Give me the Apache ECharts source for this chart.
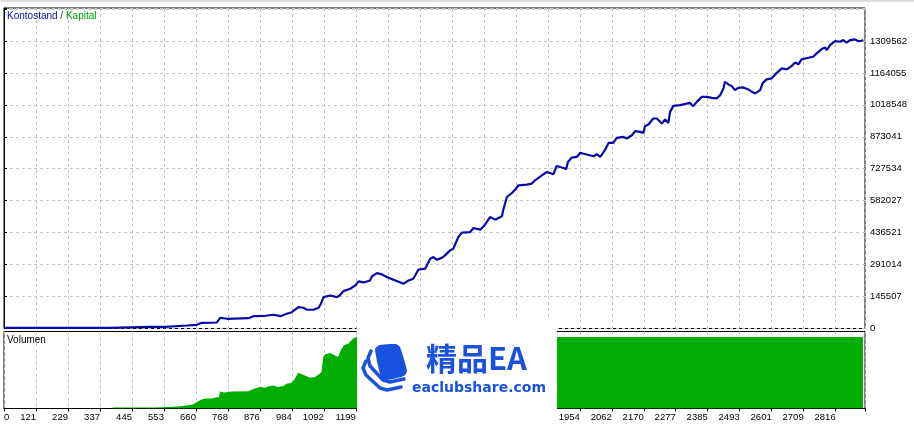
<!DOCTYPE html>
<html>
<head>
<meta charset="utf-8">
<script src="https://cdn.jsdelivr.net/npm/echarts@6/dist/echarts.min.js"></script>
<style>
html,body{margin:0;padding:0;background:#fff;}
#c{width:914px;height:426px;}
</style>
</head>
<body>
<div id="c"></div>
<script>
// ---- data ----
const xTickLabels = ['0','121','229','337','445','553','660','768','876','984','1092','1199','1307','1415','1523','1631','1738','1846','1954','2062','2170','2277','2385','2493','2601','2709','2816'];
const yTickLabels = ['0','145507','291014','436521','582027','727534','873041','1018548','1164055','1309562'];

// Kontostand (balance): [trade number, balance]
const balance = [
[4,3000],[352,3000],[354,7500],[494,7000],[544,7000],[550,10490],[618,13683],[622,16876],[651,16876],[668,25998],
[719,27366],[730,48803],[753,44242],[826,46978],[842,56100],[882,57925],[910,62486],[933,56100],[955,67047],[972,74344],
[994,97149],[1011,94413],[1023,85291],[1045,85291],[1062,94413],[1070,112657],[1079,142759],[1101,150513],[1124,142759],[1133,150513],
[1146,170125],[1169,181072],[1186,196123],[1197,214367],[1214,209806],[1236,218928],[1242,237172],[1259,252223],[1276,246294],[1293,233979],
[1315,222121],[1349,203877],[1366,218928],[1382,226682],[1399,267731],[1422,272292],[1439,317902],[1450,325199],[1461,313341],[1478,321551],
[1489,332953],[1506,355758],[1517,363512],[1534,416419],[1546,436488],[1574,439224],[1585,457468],[1608,450171],[1624,472976],[1641,507639],
[1658,495781],[1681,510832],[1686,541391],[1698,598859],[1715,617103],[1726,632611],[1737,652223],[1765,655416],[1782,659977],[1793,675028],
[1816,697833],[1833,712884],[1855,702394],[1866,740250],[1889,731128],[1898,725199],[1904,758494],[1917,778563],[1934,781299],[1945,799543],
[1968,792246],[1990,784492],[2001,793614],[2013,781299],[2029,811858],[2041,845153],[2057,845153],[2069,867958],[2091,872519],[2103,865222],
[2120,880273],[2131,898517],[2148,895324],[2159,890763],[2164,921322],[2176,929076],[2192,956442],[2204,956442],[2221,933637],[2232,951881],
[2243,936373],[2249,986544],[2260,1013910],[2283,1017103],[2316,1027593],[2327,1012542],[2339,1032154],[2356,1054959],[2373,1054959],[2390,1050398],
[2406,1047662],[2418,1062713],[2429,1093272],[2434,1123374],[2446,1111516],[2457,1103762],[2468,1085518],[2479,1096008],[2496,1097833],[2513,1088711],
[2525,1077764],[2536,1070467],[2553,1085518],[2562,1118813],[2575,1134321],[2592,1138882],[2609,1164423],[2626,1184492],[2643,1179931],[2660,1196350],
[2671,1211858],[2682,1202736],[2693,1225541],[2716,1232838],[2732,1237399],[2744,1252907],[2761,1272519],[2772,1280273],[2778,1267958],[2789,1290763],
[2806,1309007],[2823,1305814],[2834,1313568],[2845,1301253],[2856,1313568],[2873,1316761],[2884,1309007],[2896,1310375],[2901,1313568]
];

// Volumen (percent of panel scale): [trade number, volume]
const volume = [
[367,1.4],[510,1.4],[512,2.8],[586,2.8],[587,4.2],[616,4.2],[617,5.6],[638,5.6],[639,7.4],[656,10.2],
[667,12.6],[682,14.0],[701,14.0],[718,15.8],[726,15.8],[729,23.8],[743,22.4],[769,23.8],[825,24.3],[830,26.2],
[847,28.1],[864,29.9],[881,29.0],[892,30.9],[909,32.3],[926,29.9],[943,31.3],[954,34.6],[971,36.0],[982,41.7],
[993,50.1],[999,50.9],[1016,46.3],[1033,43.1],[1050,43.9],[1061,47.3],[1072,50.9],[1078,72.0],[1083,75.7],[1100,77.6],
[1111,75.7],[1128,72.0],[1137,81.3],[1148,88.4],[1162,90.7],[1168,92.1],[1179,97.8],[1190,100],[2900,100]
];

const X_INTERVAL = 108, X_MAX = 2907;
const Y_INTERVAL = 145507, Y_MAX = 1459600;
const FONT = '"Liberation Sans", Arial, sans-serif';
const WM = '#1a52e0';

const chart = echarts.init(document.getElementById('c'), null, {renderer:'canvas'});

const dash = {color:'#c6c6c6', type:[3,3], width:1};

chart.setOption({
  animation:false,
  backgroundColor:'#ffffff',
  grid:[
    {left:4, right:49, top:8, height:320.5, show:true, borderColor:'#000', borderWidth:1, backgroundColor:'#fff'},
    {left:4, right:49, top:331.5, height:77, show:true, borderColor:'#000', borderWidth:1, backgroundColor:'#fff'}
  ],
  xAxis:[
    {gridIndex:0, type:'value', min:0, max:X_MAX, interval:X_INTERVAL,
     axisLine:{show:false}, axisTick:{show:false}, axisLabel:{show:false},
     splitLine:{show:true, lineStyle:dash}},
    {gridIndex:1, type:'value', min:0, max:X_MAX, interval:X_INTERVAL,
     axisLine:{show:true, lineStyle:{color:'#000'}},
     axisTick:{show:true, length:3, lineStyle:{color:'#000'}},
     axisLabel:{show:true, color:'#000', fontFamily:FONT, fontSize:9.5, margin:4,
       align:'right', alignMinLabel:'left',
       formatter:function(v){const i=Math.round(v/X_INTERVAL); return (Math.abs(v-i*X_INTERVAL)<1 && xTickLabels[i]!==undefined)?xTickLabels[i]:'';}},
     splitLine:{show:true, lineStyle:dash}}
  ],
  yAxis:[
    {gridIndex:0, type:'value', position:'right', min:0, max:Y_MAX, interval:Y_INTERVAL,
     axisLine:{show:true, lineStyle:{color:'#000'}},
     axisTick:{show:true, length:3, lineStyle:{color:'#000'}},
     axisLabel:{show:true, color:'#000', fontFamily:FONT, fontSize:9.5, margin:5, align:'left',
       formatter:function(v){const i=Math.round(v/Y_INTERVAL); return (Math.abs(v-i*Y_INTERVAL)<10 && yTickLabels[i]!==undefined)?yTickLabels[i]:'';}},
     splitLine:{show:true, lineStyle:dash}},
    {gridIndex:1, type:'value', position:'right', min:0, max:107.7, show:false, splitLine:{show:false}}
  ],
  series:[
    {type:'line', xAxisIndex:1, yAxisIndex:1, data:volume, showSymbol:false, symbol:'none',
     lineStyle:{width:0}, areaStyle:{color:'#00ad00', opacity:1}, itemStyle:{color:'#00ad00'}},
    {type:'line', xAxisIndex:0, yAxisIndex:0, data:balance, showSymbol:false, symbol:'none',
     lineStyle:{width:2.2, color:'#0a0aa8'}, itemStyle:{color:'#0a0aa8'}}
  ],
  graphic:{
    elements:[
    {type:'rect', z:100, silent:true, shape:{x:0,y:0,width:914,height:2}, style:{fill:'#dedede'}},
    {type:'text', z:100, x:7, y:16, style:{
      text:'{a|Kontostand} {s|/} {b|Kapital}', verticalAlign:'middle', fontFamily:FONT, fontSize:10,
      rich:{a:{fill:'#0a0a9a', fontFamily:FONT, fontSize:10}, s:{fill:'#333', fontFamily:FONT, fontSize:10}, b:{fill:'#00a000', fontFamily:FONT, fontSize:10}}}},
    {type:'text', z:100, x:7, y:340, style:{text:'Volumen', verticalAlign:'middle', fill:'#000', fontFamily:FONT, fontSize:10}},
    // watermark box
    {type:'rect', z:100, shape:{x:357, y:317, width:200, height:109}, style:{fill:'#ffffff'}},
    {type:'polygon', z:101, shape:{points:[[375,349],[380,345],[396,344],[400,347],[407,371],[404,376],[386,380],[381,377]], smooth:0.2}, style:{fill:WM}},
    {type:'polyline', z:101, shape:{points:[[371,351],[368,358],[370,366],[383,380],[390,382],[404,379]]}, style:{stroke:WM, lineWidth:3.5, fill:null, lineJoin:'round', lineCap:'round'}},
    {type:'polyline', z:101, shape:{points:[[366,361],[363,368],[366,375],[380,388],[387,390],[401,387]]}, style:{stroke:WM, lineWidth:3.5, fill:null, lineJoin:'round', lineCap:'round'}},
    {type:'text', z:101, x:426, y:358, style:{text:'精品EA', fill:WM, fontFamily:'"Noto Sans CJK SC", sans-serif', fontWeight:'bold', fontSize:31, verticalAlign:'middle'}},
    {type:'text', z:101, x:412, y:388, style:{text:'eaclubshare.com', fill:WM, fontFamily:'"DejaVu Sans", sans-serif', fontWeight:'bold', fontSize:14, verticalAlign:'middle'}}
  ]}
});
</script>
</body>
</html>
